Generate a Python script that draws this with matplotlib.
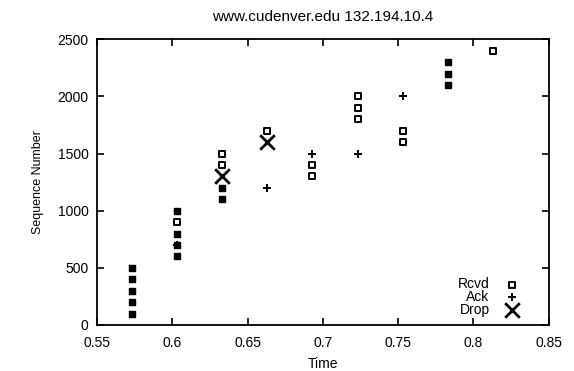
import numpy as np
import matplotlib.pyplot as plt

plt.rcParams['font.family'] = ['Liberation Sans', 'DejaVu Sans']

# received packets (time, seq); "dense" bursts show as filled squares
rcvd_time = [0.573] * 5 + [0.603] * 5 + [0.633] * 4 + [0.663] + [0.693] * 2 \
    + [0.723] * 3 + [0.753] * 2 + [0.783] * 3 + [0.813]
rcvd_seq = [100, 200, 300, 400, 500,
            600, 700, 800, 900, 1000,
            1100, 1200, 1400, 1500,
            1700,
            1300, 1400,
            1800, 1900, 2000,
            1600, 1700,
            2100, 2200, 2300,
            2400]
rcvd_dense = [1, 1, 1, 1, 1,
              1, 1, 1, 0, 1,
              1, 1, 0, 0,
              0,
              0, 0,
              0, 0, 0,
              0, 0,
              1, 1, 1,
              0]

ack_time = [0.603, 0.663, 0.693, 0.723, 0.753]
ack_seq = [700, 1200, 1500, 1500, 2000]

drop_time = [0.633, 0.663]
drop_seq = [1300, 1600]

fig = plt.figure(figsize=(5.74, 3.71), dpi=100)
ax = fig.add_axes([0.169, 0.124, 0.787, 0.770])

rt = np.array(rcvd_time)
rs = np.array(rcvd_seq)
dense = np.array(rcvd_dense, dtype=bool)

ax.scatter(rt[~dense], rs[~dense], marker='s', s=18, facecolors='white',
           edgecolors='black', linewidths=1.4, label='Rcvd', zorder=3)
ax.scatter(rt[dense], rs[dense], marker='s', s=22, facecolors='black',
           edgecolors='black', linewidths=1.0, zorder=3)
ax.scatter(ack_time, ack_seq, marker='+', s=30, color='black',
           linewidths=1.4, label='Ack', zorder=3)
ax.scatter(drop_time, drop_seq, marker='x', s=110, color='black',
           linewidths=2.0, label='Drop', zorder=4)

ax.set_xlim(0.55, 0.85)
ax.set_ylim(0, 2500)
ax.set_xticks(np.arange(0.55, 0.851, 0.05))
ax.set_xticklabels(['0.55', '0.6', '0.65', '0.7', '0.75', '0.8', '0.85'])
ax.set_yticks(np.arange(0, 2501, 500))
ax.tick_params(direction='in', top=True, right=True, length=5, width=1.2,
               labelsize=10)
ax.tick_params(axis='x', pad=8)
ax.tick_params(axis='y', pad=6)
for sp in ax.spines.values():
    sp.set_linewidth(1.3)

ax.set_title('www.cudenver.edu 132.194.10.4', fontsize=11, pad=13)
ax.set_xlabel('Time', fontsize=10, labelpad=5)
ax.set_ylabel('Sequence Number', fontsize=9, labelpad=10)

leg = ax.legend(loc='lower right', bbox_to_anchor=(0.955, 0.0),
                frameon=False, fontsize=10,
                markerfirst=False, handletextpad=1.0, labelspacing=-0.1,
                borderaxespad=0.2, handlelength=1.2)
for t in leg.get_texts():
    t.set_ha('right')

fig.savefig('out.png', dpi=100)
